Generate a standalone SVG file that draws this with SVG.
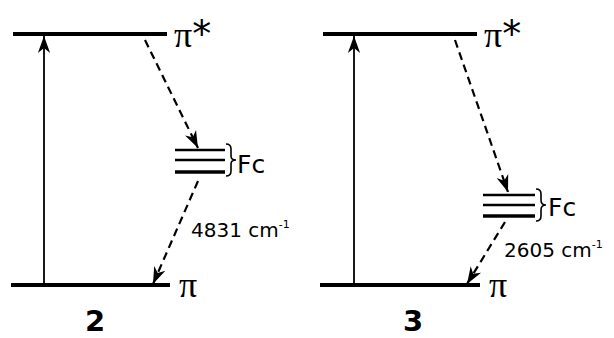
<svg xmlns="http://www.w3.org/2000/svg" width="614" height="338" viewBox="0 0 614 338">
<style>
.lvl{stroke:#000;stroke-width:4;fill:none}
.fc{stroke:#000;stroke-width:2.5;fill:none}
.fcb{stroke:#000;stroke-width:3.5;fill:none}
.br{stroke:#000;stroke-width:1.6;fill:none}
.up{stroke:#000;stroke-width:1.8;fill:none}
.dash{stroke:#000;stroke-width:2.2;fill:none;stroke-dasharray:8,5}
.pi{font-family:"Liberation Serif",serif;font-size:36px;fill:#000}
.ast{font-family:"DejaVu Sans",sans-serif;font-size:38px}
.lab{font-family:"DejaVu Sans",sans-serif;font-size:25px;fill:#000}
.en{font-family:"DejaVu Sans",sans-serif;font-size:20px;fill:#000}
.sup{font-size:11px}
.num{font-family:"DejaVu Sans",sans-serif;font-size:29px;font-weight:bold;fill:#000}
</style>
<defs>
<marker id="ah" viewBox="0 0 10 10" refX="10" refY="5" markerWidth="17" markerHeight="17" markerUnits="userSpaceOnUse" orient="auto">
<path d="M0,1.4 L10,5 L0,8.6 L3,5 Z" fill="#000"/>
</marker>
</defs>
<g id="panel2">
<g id="pistar2"><line class="lvl" x1="13" y1="34" x2="167" y2="34"/><text class="pi" x="174" y="47">π<tspan class="ast">*</tspan></text></g>
<g id="pi2"><line class="lvl" x1="11" y1="285" x2="170" y2="285"/><text class="pi" x="179" y="297">π</text></g>
<g id="fc2"><line class="fc" x1="175" y1="150" x2="225" y2="150"/><line class="fc" x1="175" y1="160" x2="225" y2="160"/><line class="fcb" x1="175" y1="172" x2="225" y2="172"/>
<path class="br" d="M226,144 Q231,144 231,149 L231,156 Q231,160 236,160 Q231,160 231,164 L231,171 Q231,176 226,176"/>
<text class="lab" x="237" y="173">Fc</text></g>
<g id="label2"><text class="en" x="191" y="237">4831 cm<tspan class="sup" dy="-9">-1</tspan></text><text class="num" x="85" y="331">2</text></g>
</g>
<g id="panel3">
<g id="pistar3"><line class="lvl" x1="323" y1="34" x2="477" y2="34"/><text class="pi" x="484" y="47">π<tspan class="ast">*</tspan></text></g>
<g id="pi3"><line class="lvl" x1="320" y1="285" x2="480" y2="285"/><text class="pi" x="489" y="297">π</text></g>
<g id="fc3"><line class="fc" x1="483" y1="195" x2="535" y2="195"/><line class="fc" x1="483" y1="205" x2="535" y2="205"/><line class="fcb" x1="483" y1="216" x2="535" y2="216"/>
<path class="br" d="M536,189 Q541,189 541,194 L541,200 Q541,205 546,205 Q541,205 541,210 L541,216 Q541,221 536,221"/>
<text class="lab" x="548" y="216">Fc</text></g>
<g id="label3"><text class="en" x="504" y="257">2605 cm<tspan class="sup" dy="-9">-1</tspan></text><text class="num" x="403" y="331">3</text></g>
</g>
<g id="connectors">
<line class="up" x1="44" y1="284" x2="44" y2="36" marker-end="url(#ah)"/>
<line class="dash" x1="145" y1="40" x2="198" y2="148" marker-end="url(#ah)"/>
<line class="dash" x1="198" y1="181" x2="153" y2="284" marker-end="url(#ah)"/>
<line class="up" x1="354" y1="284" x2="354" y2="36" marker-end="url(#ah)"/>
<line class="dash" x1="455" y1="40" x2="508" y2="192" marker-end="url(#ah)"/>
<line class="dash" x1="505" y1="222" x2="467" y2="284" marker-end="url(#ah)"/>
</g>
</svg>
